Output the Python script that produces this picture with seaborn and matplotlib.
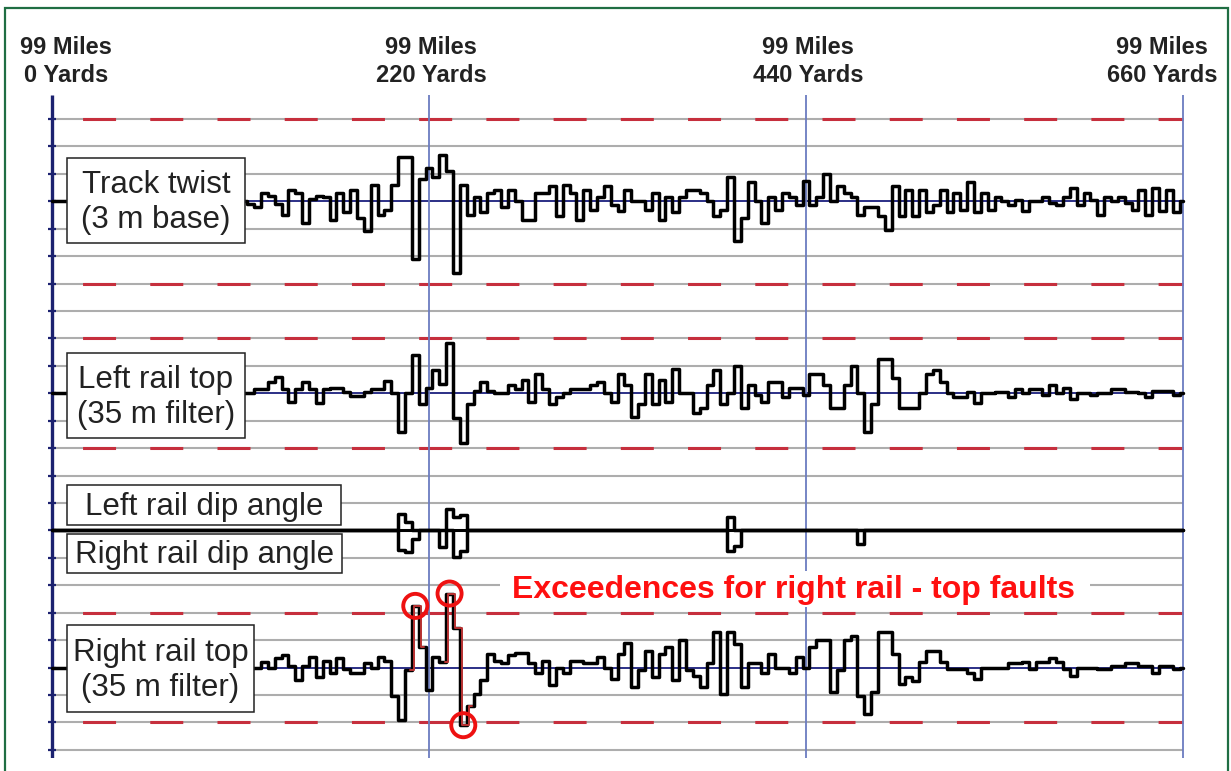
import numpy as np
import matplotlib
matplotlib.use('Agg')
import matplotlib.pyplot as plt
from matplotlib.patches import Rectangle
import seaborn as sns

# ---- data (values in chart divisions, + = up) ----
STEP_YD = 4  # one reading every 4 yards, 0..660 yd

post_yards = [0, 220, 440, 660]
post_miles = ['99 Miles'] * 4
post_yd_labels = ['0 Yards', '220 Yards', '440 Yards', '660 Yards']

twist = [
    0, 0, 0, 0, 0, 0, 0, 0, 0, 0,
    0, 0, 0, 0, 0, 0, 0, 0, 0, 0,
    0, 0, 0, 0, 0, 0, 0, 0, 0, -0.1,
    -0.2, 0.3, 0.2, -0.1, -0.5, 0.4, 0.3, -0.8, 0.1, 0.2,
    0.15, -0.7, 0.3, -0.4, 0.4, -0.6, -1.1, 0.6, -0.5, -0.3,
    0.6, 1.6, 1.6, -2.1, 0.8, 1.2, 0.9, 1.7, 1.1, -2.6,
    0.6, -0.5, 0.15, -0.4, 0.3, 0.4, -0.2, 0.4, 0, -0.7,
    -0.7, 0.3, 0.3, 0.55, -0.55, 0.6, 0.3, -0.7, 0.4, -0.3,
    0.15, 0.55, -0.15, -0.35, 0.4, 0, 0, -0.3, 0.3, -0.7,
    0.15, -0.4, 0.15, 0.4, 0.4, 0.3, 0, -0.55, -0.3, 0.9,
    -1.45, -0.6, 0.7, 0, -0.8, 0.15, -0.3, 0.3, 0.15, -0.15,
    0.75, -0.15, 0.15, 1.0, 0, 0.55, 0.3, 0.15, -0.5, -0.2,
    -0.2, -0.55, -1.05, 0.55, -0.55, 0.4, -0.55, 0.4, -0.4, -0.15,
    0.4, -0.4, 0.3, -0.3, 0.7, -0.4, 0.3, -0.3, 0.15, 0,
    -0.15, 0.05, -0.35, 0, 0, 0.15, -0.05, -0.15, 0.15, 0.5,
    -0.15, 0.3, 0.05, -0.5, 0.15, 0, 0.15, -0.05, -0.3, 0.4,
    -0.5, 0.5, -0.35, 0.4, -0.4, 0,
]

left_top = [
    0, 0, 0, 0, 0, 0, 0, 0, 0, 0,
    0, 0, 0, 0, 0, 0, 0, 0, 0, 0,
    0, 0, 0, 0, 0, 0, 0, 0, 0, 0,
    0.15, 0.15, 0.4, 0.6, 0.15, -0.3, 0.15, 0.4, 0.15, -0.35,
    0.15, 0.2, 0.2, 0.05, -0.1, -0.1, 0.05, 0.15, 0.15, 0.45,
    0, -1.4, 0, 1.4, -0.4, 0.2, 0.85, 0.35, 1.85, -0.9,
    -1.8, -0.4, 0.1, 0.4, 0.1, 0, 0, 0.3, 0.15, 0.5,
    -0.3, 0.7, 0.15, -0.4, -0.15, 0, 0.15, 0.15, 0.15, 0.3,
    0.4, 0, -0.3, 0.7, 0.3, -0.85, -0.4, 0.7, -0.4, 0.5,
    -0.3, 0.9, 0, 0, -0.7, -0.55, 0.3, 0.85, -0.4, 0,
    1.0, -0.55, 0.3, -0.05, -0.3, 0.4, 0.4, -0.15, 0.2, 0.2,
    -0.05, 0.7, 0.7, 0.3, -0.55, -0.55, 0.3, 1.0, 0, -1.4,
    -0.4, 1.25, 1.25, 0.55, -0.55, -0.55, -0.55, 0, 0.7, 0.85,
    0.4, 0, -0.15, -0.15, 0.05, -0.35, 0, 0, 0.05, 0.05,
    -0.15, 0.15, 0, 0.15, 0.15, -0.05, 0.3, 0, 0.2, -0.2,
    0, 0, -0.05, 0, 0, 0.15, 0.15, 0.05, 0.05, 0,
    -0.15, 0.1, 0.1, 0.1, -0.05, 0,
]

right_top = [
    0, 0, 0, 0, 0, 0, 0, 0, 0, 0,
    0, 0, 0, 0, 0, 0, 0, 0, 0, 0,
    0, 0, 0, 0, 0, 0, 0, 0, 0, 0,
    0, 0.2, 0, 0.35, 0.45, 0.05, -0.45, 0.05, 0.4, -0.35,
    0.25, -0.2, 0.35, -0.05, -0.2, -0.2, 0.15, 0, 0.4, 0.25,
    -1.05, -1.9, -0.1, 2.25, 0.75, -0.8, 0.4, 0.2, 2.7, 1.45,
    -2.1, -1.4, -0.95, -0.45, 0.5, 0.25, 0.15, 0.45, 0.55, 0.55,
    0.15, -0.2, 0.25, -0.65, 0, -0.2, 0.25, 0.25, 0.15, 0.15,
    0.4, 0, -0.4, 0.5, 0.9, -0.7, -0.1, 0.6, -0.35, 0.5,
    0.75, -0.45, 1.0, -0.1, -0.3, -0.7, 0.15, 1.3, -0.95, 1.3,
    0.85, -0.7, 0.15, 0.15, -0.2, 0.5, 0, 0, -0.2, 0.4,
    0, 0.75, 1.0, 1.0, -0.9, -0.1, 1.0, 1.15, -1.05, -1.7,
    -0.9, 1.3, 1.3, 0.5, -0.6, -0.35, -0.5, 0.2, 0.6, 0.6,
    0.2, -0.05, -0.05, -0.05, -0.2, -0.4, 0, 0, 0, 0,
    0.15, 0.15, 0.2, -0.05, 0.2, 0.2, 0.35, 0.2, -0.05, -0.3,
    0, 0, 0, -0.05, -0.05, 0.05, 0.05, 0.15, 0.15, 0.05,
    0.05, -0.2, 0.05, 0.05, -0.05, 0,
]

# dip angle traces are flat except for a few short pulses (reading index -> value)
left_dip_idx = [51, 52, 58, 59, 60, 99]
left_dip_val = [0.6, 0.3, 0.8, 0.5, 0.55, 0.5]
right_dip_idx = [51, 52, 53, 57, 59, 60, 99, 100, 118]
right_dip_val = [-0.7, -0.8, -0.3, -0.6, -0.95, -0.75, -0.75, -0.55, -0.5]

top_limit = 2.0  # right rail top alarm level (divisions)

# ---- layout ----
W, H = 1231, 771
PX_PER_YD = (1183 - 52) / 660.0
Y0, DY = 119, 27.43          # first red line and grid pitch in pixels


def fx(px):
    return px / W


def fy(py):
    return 1 - py / H


n = len(twist)
yards = np.arange(n) * STEP_YD
left_dip = np.zeros(n)
left_dip[left_dip_idx] = left_dip_val
right_dip = np.zeros(n)
right_dip[right_dip_idx] = right_dip_val

sns.set_theme(style='white')
plt.rcParams['font.family'] = ['Liberation Sans', 'DejaVu Sans']

fig = plt.figure(figsize=(W / 100, H / 100), dpi=100)
fig.patch.set_facecolor('white')
ax_l, ax_r, ax_t, ax_b = 42, 1193, 95, 758
ax = fig.add_axes([fx(ax_l), fy(ax_b), (ax_r - ax_l) / W, (ax_b - ax_t) / H])
ax.set_xlim((ax_l - 52) / PX_PER_YD, 660 + (ax_r - 1183) / PX_PER_YD)
ax.set_ylim(-(ax_b - Y0) / DY, -(ax_t - Y0) / DY)
ax.axis('off')

centres = {'twist': 3, 'left': 10, 'dip': 15, 'right': 20}
red_rows = [0, 6, 8, 12, 18, 22]

grey = '#adadad'
navy = '#1c2270'
red_dash = '#c62f3d'

for k in range(24):
    if k in (3, 10, 20):
        ax.hlines(-k, 0, 660, color='#2b2f86', lw=1.4, zorder=2)
    elif k == 15:
        ax.hlines(-k, 0, 660, color='black', lw=2.2, zorder=2)
    else:
        ax.hlines(-k, 0, 660, color=grey, lw=1.5, zorder=1)
    ax.hlines(-k, -2.5, 2.5, color=navy, lw=1.6, zorder=2)
for k in red_rows:
    ax.hlines(-k, 0, 660, color=red_dash, lw=2.2, zorder=1.5,
              linestyle=(12, (10.8, 11.2)))

ylo, yhi = ax.get_ylim()
for i, yd in enumerate(post_yards):
    if i == 0:
        ax.vlines(yd, ylo, yhi, color=navy, lw=2.4, zorder=2.5)
    else:
        ax.vlines(yd, ylo, yhi, color='#6b7cc0', lw=1.3, zorder=2.5)

trace_kw = dict(color='black', linewidth=2.5, drawstyle='steps-mid',
                estimator=None, sort=False, legend=False, zorder=3)
sns.lineplot(x=yards, y=np.array(twist) - centres['twist'], ax=ax, **trace_kw)
sns.lineplot(x=yards, y=np.array(left_top) - centres['left'], ax=ax, **trace_kw)
sns.lineplot(x=yards, y=left_dip - centres['dip'], ax=ax, **trace_kw)
sns.lineplot(x=yards, y=right_dip - centres['dip'], ax=ax, **trace_kw)
rt = np.array(right_top)
sns.lineplot(x=yards, y=rt - centres['right'], ax=ax, **trace_kw)

# exceedances of the right rail top trace
exc = np.where(np.abs(rt) > top_limit)[0]
win = np.zeros(n, bool)
for i in exc:
    win[max(i - 1, 0):i + 2] = True
edges = np.flatnonzero(np.diff(np.r_[0, win.astype(int), 0]))
for s, e in zip(edges[::2], edges[1::2]):
    sns.lineplot(x=yards[s:e] + 1.2, y=rt[s:e] - centres['right'], ax=ax,
                 color='#b83232', linewidth=1.4, drawstyle='steps-mid',
                 estimator=None, sort=False, legend=False, zorder=4)
ax.scatter(yards[exc], rt[exc] - centres['right'], s=300, facecolors='none',
           edgecolors='#ee1111', linewidths=2.8, zorder=6, clip_on=False)

# ---- text ----
label_px = [66, 431, 808, 1162]
for px, m, y in zip(label_px, post_miles, post_yd_labels):
    fig.text(fx(px), fy(47), m, ha='center', va='center', fontsize=17,
             fontweight='bold', color='#222222')
    fig.text(fx(px), fy(75), y, ha='center', va='center', fontsize=17,
             fontweight='bold', color='#222222')

boxes = [
    ('Track twist\n(3 m base)', 67, 245, 158, 243),
    ('Left rail top\n(35 m filter)', 67, 245, 353, 438),
    ('Left rail dip angle', 67, 341, 485, 525),
    ('Right rail dip angle', 67, 342, 534, 573),
    ('Right rail top\n(35 m filter)', 67, 254, 625, 712),
]
for txt, x0, x1, y0, y1 in boxes:
    fig.add_artist(Rectangle((fx(x0), fy(y1)), (x1 - x0) / W, (y1 - y0) / H,
                             transform=fig.transFigure, facecolor='white',
                             edgecolor='#222222', lw=1.1, zorder=5))
    fig.text(fx((x0 + x1) / 2), fy((y0 + y1) / 2 + 2), txt, ha='center',
             va='center', fontsize=22.5, color='#222222', linespacing=1.2,
             zorder=6)

fig.add_artist(Rectangle((fx(500), fy(607)), 590 / W, 36 / H,
                         transform=fig.transFigure, facecolor='white',
                         edgecolor='none', zorder=5))
fig.text(fx(793), fy(590), 'Exceedences for right rail - top faults',
         ha='center', va='center', fontsize=23, fontweight='bold',
         color='#ff1010', zorder=6)

# green frame
fig.add_artist(Rectangle((fx(5), -0.05), (1228 - 5) / W, fy(8) + 0.05,
                         transform=fig.transFigure, fill=False,
                         edgecolor='#1f6e43', lw=1.6, zorder=10))

fig.savefig('out.png', dpi=100)
